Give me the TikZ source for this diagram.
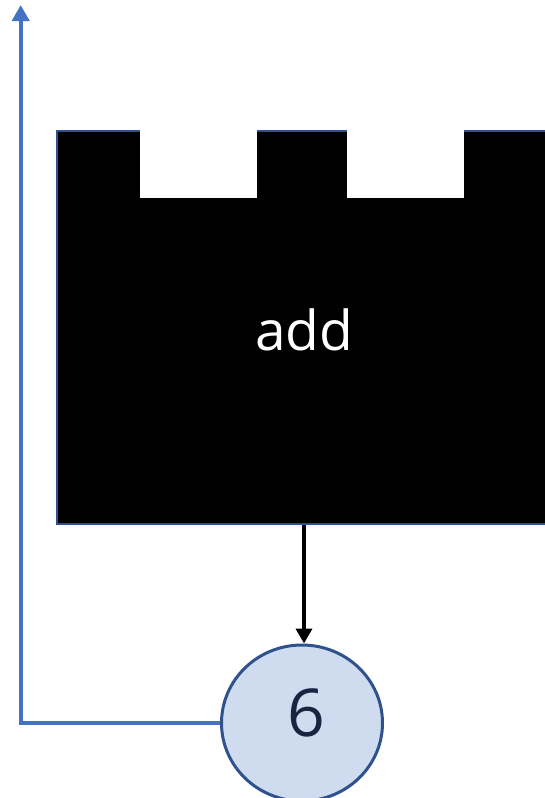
\documentclass[tikz,border=0pt]{standalone}
\usepackage{fontspec}
\setmainfont{Open Sans}
\usetikzlibrary{arrows.meta,shapes.geometric}
\definecolor{edgeblue}{HTML}{2F528F}
\definecolor{linkblue}{HTML}{4472C4}
\definecolor{numfill}{HTML}{CFDCEF}
\definecolor{numtext}{HTML}{172540}
\tikzset{
  blockbox/.style={rectangle, fill=black, draw=edgeblue, line width=2.5pt,
    minimum width=494pt, minimum height=393pt, inner sep=0pt},
  numnode/.style={ellipse, fill=numfill, draw=edgeblue, line width=3pt,
    minimum width=161pt, minimum height=156pt, inner sep=0pt},
  notch/.style={fill=white, draw=none},
  blocklabel/.style={anchor=base, inner sep=0pt, text=white,
    font=\fontsize{55}{60}\selectfont},
  numlabel/.style={anchor=base, inner sep=0pt, text=numtext,
    font=\fontsize{66}{72}\selectfont},
  flow/.style={line width=3.7pt, -{Triangle[width=16pt,length=15pt]}},
  feedback/.style={line width=4pt, linkblue, -{Triangle[width=17pt,length=16pt]}}
}
\begin{document}
\begin{tikzpicture}[x=1pt,y=-1pt]
  \useasboundingbox (0,0) rectangle (544,798);
  % the crenellated block
  \node[blockbox] (blk) at (304,327.5) {};
  \fill[notch] (140,128) rectangle (257,197.5);
  \fill[notch] (347,128) rectangle (464,197.5);
  \node[blocklabel] (lbl) at (304,350) {add};
  % result value
  \node[numnode] (num) at (302,723) {};
  \node[numlabel] (val) at (306,736) {6};
  \coordinate (top) at (20.7,5);
  \draw[flow] (blk.south) -- (blk.south |- num.north);
  \draw[feedback] (num.west) -| (top);
\end{tikzpicture}
\end{document}
